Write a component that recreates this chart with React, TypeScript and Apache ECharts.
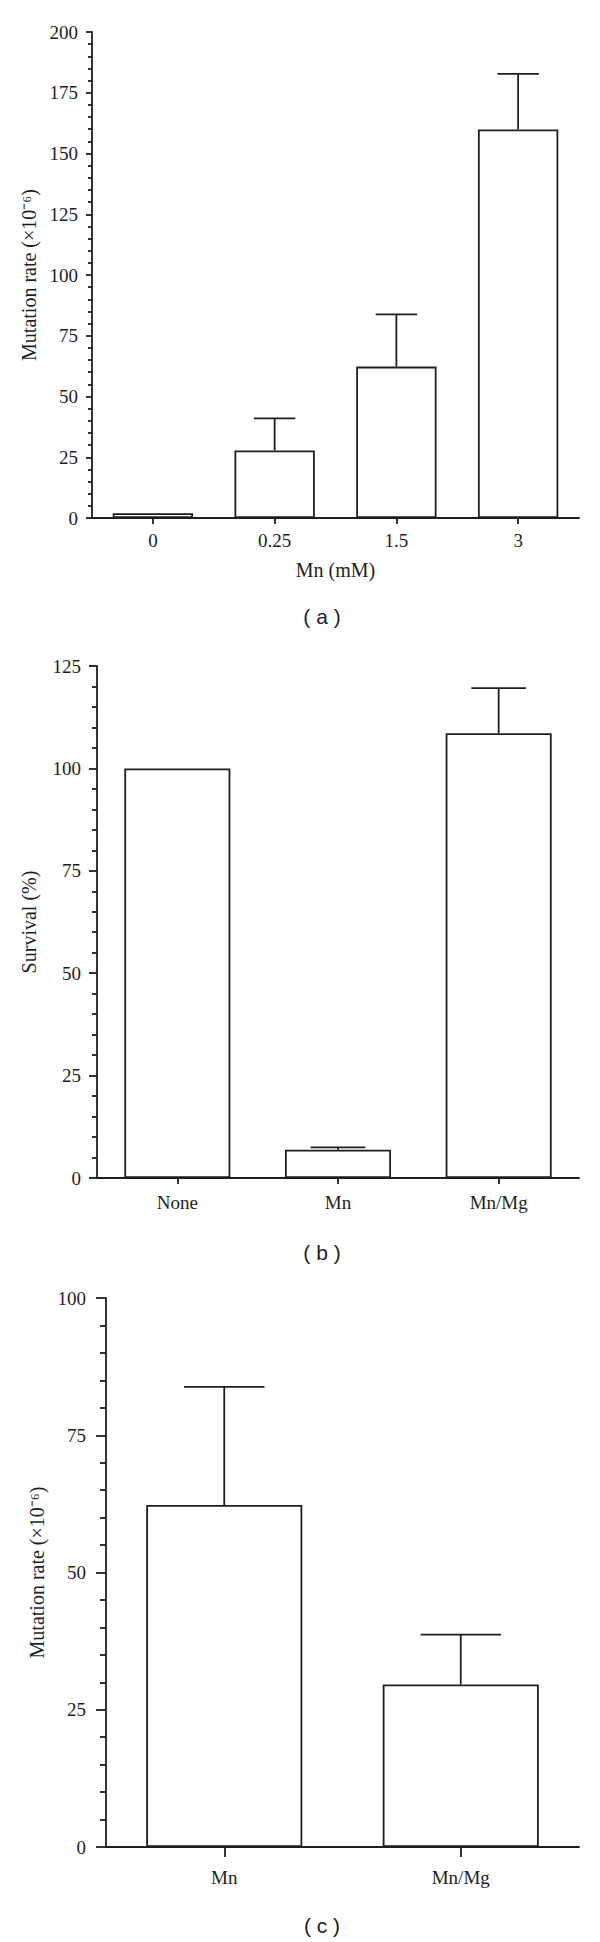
import React, { useEffect, useRef } from "react";
import * as echarts from "echarts";

// Panel (a): mutation rate vs Mn dose
const doseLabels = ["0", "0.25", "1.5", "3"];
const mutationRateByDose = [2, 27.8, 62.3, 159.9];
const mutationRateByDoseErr: (number | null)[] = [null, 41, 83.8, 182.8];

// Panel (b): survival
const survivalLabels = ["None", "Mn", "Mn/Mg"];
const survivalPct = [100, 6.9, 108.6];
const survivalErr: (number | null)[] = [null, 7.5, 119.6];

// Panel (c): mutation rate by treatment
const treatmentLabels = ["Mn", "Mn/Mg"];
const mutationRateByTreatment = [62.3, 29.6];
const mutationRateByTreatmentErr: (number | null)[] = [83.8, 38.7];

const axisMax = [200, 125, 100];
const axisInterval = [25, 25, 25];
const captions = ["( a )", "( b )", "( c )"];

const INK = "#1e1e1e";
const SERIF = "'Liberation Serif', 'Times New Roman', serif";
const SANS = "'Liberation Sans', Arial, sans-serif";
const LW = 1.8;

function errorSeries(idx: number, vals: number[], errs: (number | null)[]) {
  const data: number[][] = [];
  errs.forEach((e, i) => {
    if (e != null) data.push([i, vals[i], e]);
  });
  return {
    type: "custom",
    xAxisIndex: idx,
    yAxisIndex: idx,
    z: 5,
    encode: { x: 0, y: [1, 2] },
    data,
    renderItem: (params: any, api: any) => {
      const x = api.value(0);
      const v = api.value(1);
      const e = api.value(2);
      const p0 = api.coord([x, v]);
      const p1 = api.coord([x, e]);
      const w = api.size([1, 0])[0] * 0.34;
      const style = { stroke: INK, lineWidth: LW };
      return {
        type: "group",
        children: [
          { type: "line", shape: { x1: p0[0], y1: p0[1], x2: p1[0], y2: p1[1] }, style },
          { type: "line", shape: { x1: p1[0] - w / 2, y1: p1[1], x2: p1[0] + w / 2, y2: p1[1] }, style },
        ],
      };
    },
  };
}

export default function App() {
  const ref = useRef<HTMLDivElement>(null);
  useEffect(() => {
    if (!ref.current) return;
    const chart = echarts.init(ref.current, null, { renderer: "svg" });

    const grids = [
      { left: 92, top: 32, width: 487, height: 486 },
      { left: 97, top: 666, width: 482, height: 512 },
      { left: 106, top: 1298, width: 473, height: 549 },
    ];
    const cats = [doseLabels, survivalLabels, treatmentLabels];
    const xNames = ["Mn (mM)", "", ""];
    const xLabelMargin = [13, 15, 21];
    const xTickLen = [6, 6, 10];
    const yNames = ["Mutation rate (×10⁻⁶)", "Survival (%)", "Mutation rate (×10⁻⁶)"];
    const yNameGap = [45, 58, 56];
    const yLabelMargin = [14, 16, 20];
    const yTickLen = [6, 8, 10];
    const yMinorLen = [4, 5, 6];

    const xAxis = cats.map((c, i) => ({
      type: "category",
      gridIndex: i,
      data: c,
      axisLine: { show: true, lineStyle: { color: INK, width: LW } },
      axisTick: { show: true, alignWithLabel: true, length: xTickLen[i], lineStyle: { color: INK, width: LW } },
      axisLabel: { fontSize: 19, fontFamily: SERIF, color: INK, margin: xLabelMargin[i] },
      name: xNames[i],
      nameLocation: "middle",
      nameGap: 42,
      nameTextStyle: { fontSize: 20, fontFamily: SERIF, color: INK },
    }));

    const yAxis = cats.map((_, i) => ({
      type: "value",
      gridIndex: i,
      min: 0,
      max: axisMax[i],
      interval: axisInterval[i],
      splitLine: { show: false },
      axisLine: { show: true, lineStyle: { color: INK, width: LW } },
      axisTick: { show: true, length: yTickLen[i], lineStyle: { color: INK, width: LW } },
      minorTick: { show: true, splitNumber: 5, length: yMinorLen[i], lineStyle: { color: INK, width: LW } },
      axisLabel: { fontSize: 19, fontFamily: SERIF, color: INK, margin: yLabelMargin[i] },
      name: yNames[i],
      nameLocation: "middle",
      nameGap: yNameGap[i],
      nameRotate: 90,
      nameTextStyle: { fontSize: 20, fontFamily: SERIF, color: INK },
    }));

    const values = [mutationRateByDose, survivalPct, mutationRateByTreatment];
    const errs = [mutationRateByDoseErr, survivalErr, mutationRateByTreatmentErr];

    const series: any[] = [];
    values.forEach((v, i) => {
      series.push({
        type: "bar",
        xAxisIndex: i,
        yAxisIndex: i,
        data: v,
        barWidth: "66%",
        itemStyle: { color: "#ffffff", borderColor: INK, borderWidth: LW },
      });
      series.push(errorSeries(i, v, errs[i]));
    });

    const captionY = [616, 1252, 1925];
    const graphic = captions.map((t, i) => ({
      type: "text",
      x: 322,
      y: captionY[i],
      style: {
        text: t,
        fontSize: 21,
        fontFamily: SANS,
        fill: INK,
        align: "center",
        verticalAlign: "middle",
      },
    }));

    chart.setOption({
      animation: false,
      backgroundColor: "#ffffff",
      grid: grids,
      xAxis,
      yAxis,
      series,
      graphic,
    });
    return () => chart.dispose();
  }, []);

  return (
    <div
      ref={ref}
      style={{ position: "absolute", left: 0, top: 0, width: 600, height: 1942, background: "#fff" }}
    />
  );
}
